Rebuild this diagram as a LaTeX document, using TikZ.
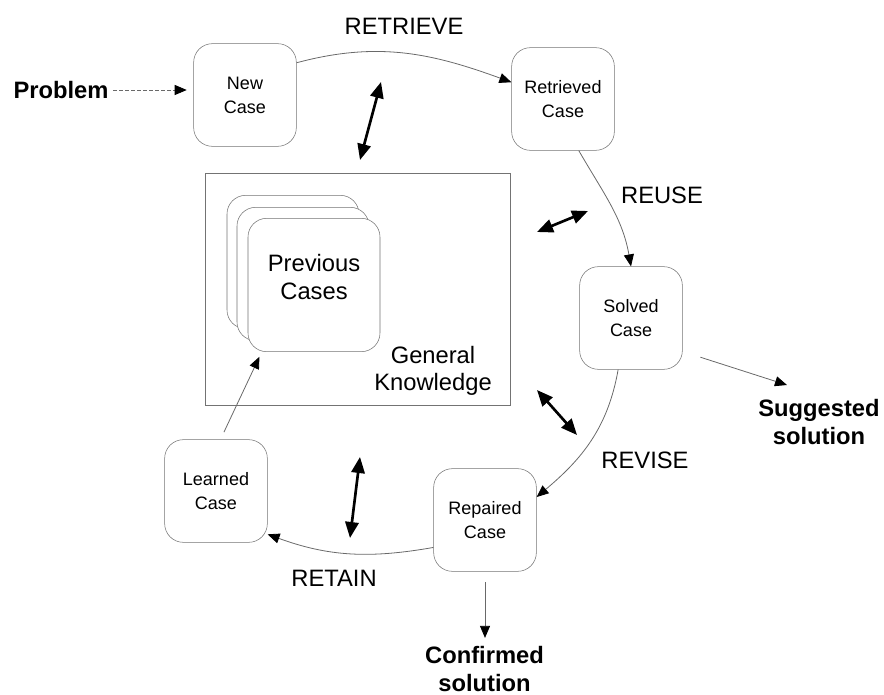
\documentclass[tikz,border=0pt]{standalone}
\usepackage{fontspec}
\setmainfont{Liberation Sans}
\usepackage{xcolor}
\usepackage{tikz}
\usetikzlibrary{arrows.meta, positioning}
\definecolor{linegray}{RGB}{105,105,105}
\definecolor{boxgray}{RGB}{115,115,115}

\begin{document}
\begin{tikzpicture}[x=0.75pt, y=-0.75pt,
    casebox/.style={draw=boxgray, fill=white, rounded corners=14pt, minimum width=77pt, minimum height=77pt, align=center, font=\fontsize{13.5}{18}\selectfont},
    card/.style={draw=boxgray, fill=white, rounded corners=14pt, minimum width=99pt, minimum height=100pt},
    bigtext/.style={align=center, font=\fontsize{17.8}{20.5}\selectfont},
    flow/.style={draw=linegray, line width=0.6pt, -{Triangle[length=9pt, width=7.5pt, color=black]}},
    dbl/.style={line width=2pt, {Triangle[length=12pt, width=10pt]}-{Triangle[length=12pt, width=10pt]}}]
    \useasboundingbox (0,0) rectangle (884,695);

    % general knowledge
    \node[draw=boxgray, minimum width=228.75pt, minimum height=174pt] (gk) at (357.5,289) {};
    \node[bigtext] (gktext) at (433,371) {General\\Knowledge};
    \node[card] (prevback) at (293,262) {};
    \node[card] (prevmid) at (303,274) {};
    \node[card] (prevfront) at (314,285) {};
    \node[bigtext] (prevtext) at ([yshift=6pt]prevfront.center) {Previous\\Cases};

    % cases
    \node[bigtext] (problem) at (61,90) {\textbf{Problem}};
    \node[casebox] (new) at (245,95) {New\\Case};
    \node[casebox] (retr) at (563,99) {Retrieved\\Case};
    \node[casebox] (solved) at (631,318) {Solved\\Case};
    \node[casebox] (rep) at (485,520) {Repaired\\Case};
    \node[casebox] (learned) at (216,491) {Learned\\Case};
    \node[bigtext] (sugg) at (819,422) {\textbf{Suggested}\\\textbf{solution}};
    \node[bigtext] (conf) at (484.5,669) {\textbf{Confirmed}\\\textbf{solution}};

    % step labels
    \node[bigtext] (retrieve) at (404,26) {RETRIEVE};
    \node[bigtext] (reuse) at (662,195) {REUSE};
    \node[bigtext] (revise) at (645,460) {REVISE};
    \node[bigtext] (retain) at (334,578) {RETAIN};

    % cycle
    \draw[flow, dash pattern=on 3pt off 1.5pt, shorten >=5pt] (problem.east) -- (problem.east -| new.west);
    \draw[flow] (new.32) to[out=15, in=160] (retr.162);
    \draw[flow] (retr.-73) to[out=-60, in=100] (solved.north);
    \draw[flow] (solved.-104) to[out=-100, in=40] (rep.24);
    \draw[flow] (rep.208) to[out=190, in=-20] (learned.-40);
    \draw[flow, shorten <=6pt, shorten >=4pt] (learned.85) -- (prevfront.-128);
    \coordinate (suggtip) at (787,385);
    \draw[flow, shorten <=14pt] (solved.-33) -- (suggtip);
    \draw[flow, shorten <=8pt, shorten >=3pt] (rep.south) -- (rep.south |- conf.north);

    % exchange with knowledge
    \coordinate (retrA) at (381,82);
    \coordinate (retrB) at (360,160);
    \coordinate (reuseA) at (537,232);
    \coordinate (reuseB) at (588,211);
    \coordinate (reviseA) at (537,390);
    \coordinate (reviseB) at (577,435);
    \coordinate (retainA) at (360,457);
    \coordinate (retainB) at (350,538);
    \draw[dbl] (retrA) -- (retrB);
    \draw[dbl] (reuseA) -- (reuseB);
    \draw[dbl] (reviseA) -- (reviseB);
    \draw[dbl] (retainA) -- (retainB);
\end{tikzpicture}
\end{document}
